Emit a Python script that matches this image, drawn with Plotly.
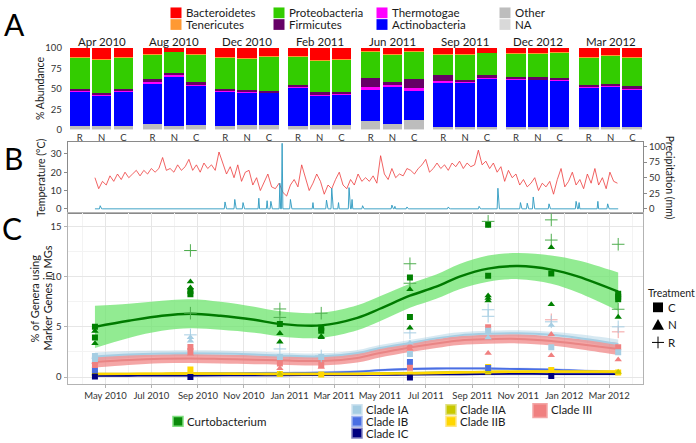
import pandas as pd
import plotly.graph_objects as go

W, H = 696, 443
FONT = "Lato"

# ---------------- Panel A: phylum composition per sampling month / treatment
months = ["Apr 2010", "Aug 2010", "Dec 2010", "Feb 2011", "Jun 2011", "Sep 2011", "Dec 2012", "Mar 2012"]
treatments = ["R", "N", "C"]
# 24 values each: month by month, in R, N, C order
na_pct = [1.5] * 24
other_pct = [3.5, 3.5, 3.5, 5.5, 3.7, 4.7, 3.5, 4.5, 4.0, 3.0, 4.5, 4.5,
             9.5, 5.5, 10.8, 2.5, 2.5, 2.0, 2.0, 2.0, 2.0, 2.0, 2.0, 2.0]
actino_pct = [41.5, 37.0, 41.5, 49.5, 60.0, 47.5, 41.8, 39.2, 39.7, 46.7, 36.0, 37.2,
              37.8, 45.7, 35.7, 54.0, 53.5, 59.5, 57.9, 57.7, 57.3, 48.6, 49.5, 46.2]
thermo_pct = [1.5, 1.5, 1.5, 2.5, 1.5, 1.5, 1.4, 1.2, 1.0, 1.2, 1.6, 1.4,
              3.2, 2.1, 3.2, 1.9, 1.2, 1.3, 0.8, 0.8, 0.8, 1.2, 1.2, 1.2]
firmi_pct = [1.5, 1.5, 1.5, 3.5, 2.5, 3.0, 1.8, 2.0, 1.8, 2.4, 2.4, 2.2,
             10.7, 3.2, 10.7, 6.8, 2.4, 2.4, 2.0, 2.0, 2.0, 1.9, 2.0, 2.4]
proteo_pct = [39.0, 41.5, 39.0, 30.0, 26.0, 33.5, 38.7, 39.3, 41.6, 35.4, 38.7, 39.4,
              32.8, 33.7, 33.3, 25.5, 31.1, 27.4, 29.5, 29.5, 30.7, 33.5, 34.5, 35.4]
teneri_pct = [0.5, 0.5, 0.5, 0.5, 0.3, 0.3, 0.3, 0.3, 0.3, 0.3, 0.3, 0.3,
              0.5, 0.3, 0.8, 0.3, 0.3, 0.3, 0.3, 0.5, 0.3, 0.3, 0.3, 0.3]
bactero_pct = [11.0, 13.0, 11.0, 7.0, 4.5, 8.0, 11.0, 12.0, 10.1, 9.5, 15.0, 13.5,
               4.0, 8.0, 4.0, 7.5, 7.5, 5.6, 6.0, 6.0, 5.4, 11.0, 9.0, 11.0]

phyla = [
    ("NA", na_pct, "#d9d9d9"),
    ("Other", other_pct, "#bdbdbd"),
    ("Actinobacteria", actino_pct, "#0000ff"),
    ("Thermotogae", thermo_pct, "#ff00ff"),
    ("Firmicutes", firmi_pct, "#660066"),
    ("Proteobacteria", proteo_pct, "#33cc00"),
    ("Tenericutes", teneri_pct, "#ff9933"),
    ("Bacteroidetes", bactero_pct, "#ff0000"),
]

# ---------------- Panel B: daily climate
temp_start = "2010-04-17"   # one reading every 5 days
temp_c = [17, 11, 15, 13, 18, 15, 19, 16, 20, 17, 19, 21,
          18, 21, 19, 22, 20, 22, 28, 21, 22, 20, 24, 21,
          23, 27, 21, 24, 20, 25, 22, 24, 21, 31, 25, 19,
          23, 17, 24, 15, 20, 21, 13, 17, 10, 15, 19, 12,
          11, 14, 9, 7, 13, 16, 12, 24, 17, 10, 14, 19,
          15, 8, 13, 11, 16, 20, 13, 11, 16, 13, 19, 15,
          17, 15, 18, 14, 29, 19, 16, 22, 17, 19, 18, 22,
          21, 19, 22, 24, 27, 20, 22, 25, 22, 24, 21, 25,
          23, 26, 22, 25, 23, 24, 32, 24, 26, 22, 25, 20,
          23, 15, 21, 17, 19, 13, 16, 12, 14, 17, 10, 14,
          12, 15, 8, 16, 22, 12, 15, 20, 13, 16, 11, 19,
          14, 22, 13, 17, 11, 20, 15, 14]
rain_start, rain_end = "2010-04-17", "2012-03-13"
rain_dates = ["2010-04-24", "2010-10-07", "2010-10-20", "2010-10-31", "2010-11-21", "2010-12-02",
              "2010-12-07", "2010-12-19", "2010-12-22", "2011-01-02", "2011-02-01", "2011-02-19",
              "2011-02-26", "2011-03-07", "2011-03-21", "2011-03-25", "2011-04-08", "2011-05-17",
              "2011-05-21", "2011-06-06", "2011-07-31", "2011-09-10", "2011-10-05", "2011-11-04",
              "2011-11-13", "2011-11-21", "2011-12-12", "2012-01-17", "2012-01-21", "2012-02-15",
              "2012-02-28"]
rain_mm = [5, 11, 15, 10, 17, 13, 12, 41, 105, 15, 10, 14, 33, 10, 34, 15, 5, 6, 4, 3, 3, 4,
           33, 10, 9, 19, 8, 12, 10, 12, 8]

# ---------------- Panel C: marker-gene genera
sample_dates = ["2010-04-17", "2010-08-22", "2010-12-19", "2011-02-12",
                "2011-06-10", "2011-09-22", "2011-12-15", "2012-03-13"]
fit_dates = ["2010-04-17", "2010-06-01", "2010-07-15", "2010-08-22", "2010-10-01", "2010-11-15",
             "2010-12-19", "2011-02-12", "2011-04-01", "2011-05-01", "2011-06-10", "2011-07-15",
             "2011-08-15", "2011-09-22", "2011-11-01", "2011-12-15", "2012-01-20", "2012-03-13"]
curto_fit = [5.0, 5.6, 6.1, 6.3, 6.1, 5.7, 5.3, 5.15, 5.9, 6.8, 8.1, 9.0, 10.0, 10.8, 11.05, 10.7, 10.0, 8.5]
curto_se = [2.1, 1.7, 1.5, 1.45, 1.4, 1.3, 1.25, 1.25, 1.25, 1.25, 1.2, 1.2, 1.25, 1.3, 1.3, 1.4, 1.6, 1.9]
ia_fit = [2.05, 2.25, 2.35, 2.38, 2.35, 2.25, 2.15, 2.06, 2.4, 2.9, 3.4, 3.85, 4.15, 4.3, 4.35, 4.2, 3.9, 3.3]
ia_se = [0.4, 0.35, 0.3, 0.3, 0.3, 0.3, 0.3, 0.3, 0.3, 0.3, 0.3, 0.3, 0.3, 0.3, 0.3, 0.3, 0.35, 0.45]
iii_fit = [1.5, 1.7, 1.82, 1.85, 1.8, 1.72, 1.67, 1.6, 1.9, 2.4, 2.95, 3.35, 3.65, 3.77, 3.8, 3.6, 3.3, 2.8]
iii_se = [0.55, 0.5, 0.45, 0.45, 0.45, 0.45, 0.45, 0.45, 0.45, 0.45, 0.45, 0.45, 0.45, 0.45, 0.45, 0.45, 0.5, 0.6]
ib_fit = [0.3, 0.3, 0.32, 0.34, 0.36, 0.38, 0.4, 0.45, 0.55, 0.68, 0.8, 0.85, 0.86, 0.85, 0.8, 0.75, 0.65, 0.5]
ic_fit = [0.12, 0.13, 0.14, 0.15, 0.16, 0.17, 0.18, 0.19, 0.2, 0.22, 0.24, 0.26, 0.28, 0.3, 0.31, 0.3, 0.3, 0.3]
iia_fit = [0.3, 0.31, 0.32, 0.33, 0.33, 0.33, 0.33, 0.33, 0.35, 0.38, 0.42, 0.46, 0.5, 0.53, 0.55, 0.55, 0.53, 0.5]
iib_fit = [0.3, 0.32, 0.34, 0.35, 0.34, 0.32, 0.3, 0.3, 0.31, 0.33, 0.36, 0.4, 0.45, 0.5, 0.53, 0.55, 0.55, 0.55]
low_se = 0.12

# (sample index, treatment, %)
curto_points = [(0, "C", 5.0), (0, "C", 3.93), (0, "N", 4.58), (0, "N", 3.35),
                (1, "C", 8.56), (1, "C", 8.25), (1, "N", 9.5), (1, "N", 8.9), (1, "R", 12.6), (1, "R", 6.36),
                (2, "C", 5.29), (2, "N", 4.35), (2, "N", 3.51), (2, "R", 6.78), (2, "R", 5.94),
                (3, "C", 4.9), (3, "C", 4.6), (3, "N", 3.95), (3, "N", 4.05), (3, "R", 6.36),
                (4, "C", 9.92), (4, "C", 5.97), (4, "N", 8.72), (4, "N", 4.9), (4, "R", 11.28), (4, "R", 9.34),
                (5, "C", 15.16), (5, "C", 10.08), (5, "N", 8.1), (5, "N", 7.85), (5, "N", 7.6), (5, "R", 15.5),
                (6, "C", 10.3), (6, "N", 12.9), (6, "N", 7.23), (6, "R", 15.65), (6, "R", 13.64),
                (7, "C", 8.3), (7, "C", 8.0), (7, "C", 7.75), (7, "N", 5.97), (7, "R", 13.22), (7, "R", 6.75)]
ia_points = [(0, "C", 2.1), (0, "C", 1.8), (0, "N", 2.0), (1, "N", 3.95), (1, "N", 3.6), (1, "R", 4.2),
             (2, "C", 2.0), (2, "R", 2.8), (3, "C", 2.0), (3, "R", 2.1), (4, "R", 4.4), (4, "C", 2.3),
             (4, "N", 3.4), (5, "R", 6.7), (5, "R", 6.05), (5, "N", 3.93), (5, "C", 4.6), (6, "R", 5.5),
             (6, "N", 5.16), (6, "C", 2.96), (7, "R", 5.0), (7, "C", 2.48)]
iii_points = [(0, "C", 1.2), (0, "N", 1.5), (1, "C", 3.0), (1, "C", 2.6), (1, "N", 2.3), (2, "C", 1.34),
              (2, "N", 0.86), (3, "C", 1.2), (3, "N", 1.0), (4, "N", 3.13), (4, "N", 2.8), (4, "C", 0.92),
              (5, "C", 4.97), (5, "N", 2.38), (6, "R", 5.7), (6, "N", 4.25), (6, "N", 2.15), (7, "R", 4.5),
              (7, "C", 2.96), (7, "N", 1.73)]
ib_points = [(0, "C", 0.7), (4, "C", 1.5), (5, "C", 0.9)]
ic_points = [(0, "C", 0.05), (1, "C", 0.0), (4, "C", -0.05), (6, "C", 0.1)]
iia_points = [(0, "N", 0.35), (2, "N", 0.3), (5, "N", 0.55), (7, "N", 0.5)]
iib_points = [(0, "C", 0.3), (0, "C", 0.45), (1, "C", 0.75), (2, "C", 0.3), (3, "C", 0.25), (4, "C", 0.25),
              (5, "C", 1.0), (5, "C", 0.55), (6, "C", 0.7), (7, "C", 0.45)]


def px(x):
    return x / W


def py(y):
    return 1 - y / H


fig = go.Figure()

# ---- A: stacked bars, one x axis per facet
for i, m in enumerate(months):
    xa = "x" if i == 0 else f"x{i + 1}"
    for name, vals, col in phyla:
        fig.add_trace(go.Bar(x=treatments, y=vals[i * 3:(i + 1) * 3], name=name, marker_color=col,
                             marker_line_width=0, width=0.9, xaxis=xa, yaxis="y"))

# ---- B: temperature + precipitation
temp_dates = pd.date_range(temp_start, periods=len(temp_c), freq="5D")
fig.add_trace(go.Scatter(x=temp_dates, y=temp_c, mode="lines", line=dict(color="#ee3b3b", width=0.8),
                         xaxis="x9", yaxis="y2"))
rain = pd.Series(0.0, index=pd.date_range(rain_start, rain_end, freq="D"))
for d, v in zip(rain_dates, rain_mm):
    rain[pd.Timestamp(d)] = v
fig.add_trace(go.Scatter(x=rain.index, y=rain.values, mode="lines", line=dict(color="#2b98bf", width=0.9),
                         xaxis="x9", yaxis="y3"))


# ---- C: loess fits with ribbons, then points
def ribbon(fit, se, fill, line_col, lw):
    se = se if isinstance(se, list) else [se] * len(fit)
    lo = [f - s for f, s in zip(fit, se)]
    hi = [f + s for f, s in zip(fit, se)]
    fig.add_trace(go.Scatter(x=fit_dates, y=lo, mode="lines", line=dict(width=0, shape="spline"),
                             xaxis="x10", yaxis="y4", hoverinfo="skip"))
    fig.add_trace(go.Scatter(x=fit_dates, y=hi, mode="lines", line=dict(width=0, shape="spline"),
                             fill="tonexty", fillcolor=fill, xaxis="x10", yaxis="y4", hoverinfo="skip"))
    return (fit, line_col, lw)


fits = [
    ribbon(curto_fit, curto_se, "rgba(110,228,110,0.75)", "#007a00", 2.4),
    ribbon(ia_fit, ia_se, "rgba(166,206,227,0.45)", "#a6cee3", 2.0),
    ribbon(iii_fit, iii_se, "rgba(240,128,128,0.7)", "#e98585", 2.0),
    ribbon(ib_fit, low_se, "rgba(72,110,230,0.3)", "#4a6fe3", 1.8),
    ribbon(ic_fit, low_se, "rgba(0,0,128,0.25)", "#000080", 1.8),
    ribbon(iia_fit, low_se, "rgba(200,200,0,0.35)", "#c8c800", 1.8),
    ribbon(iib_fit, low_se, "rgba(255,215,0,0.5)", "#ffd700", 2.4),
]
for fit, col, lw in fits:
    fig.add_trace(go.Scatter(x=fit_dates, y=fit, mode="lines", line=dict(color=col, width=lw, shape="spline"),
                             xaxis="x10", yaxis="y4"))

symbols = {"C": "square", "N": "triangle-up", "R": "cross-thin"}


def add_points(points, col, cross_col=None):
    for t in ["R", "N", "C"]:
        sel = [p for p in points if p[1] == t]
        if not sel:
            continue
        xs = [sample_dates[p[0]] for p in sel]
        ys = [p[2] for p in sel]
        if t == "R":
            mk = dict(symbol="cross-thin", size=9, line=dict(color=cross_col or col, width=1))
        else:
            mk = dict(symbol=symbols[t], size=6.5 if t == "N" else 6, color=col, line=dict(width=0))
        fig.add_trace(go.Scatter(x=xs, y=ys, mode="markers", marker=mk, xaxis="x10", yaxis="y4"))


add_points(iib_points, "#ffd700")
add_points(iia_points, "#c8c800")
add_points(ic_points, "#000080")
add_points(ib_points, "#4a6fe3")
add_points(iii_points, "#f08080", "#f4a0a0")
add_points(ia_points, "#a6cee3", "#a6cee3")
add_points(curto_points, "#008000", "#4fae4f")

# ---------------- layout
tickfont = dict(family=FONT, size=9.5, color="#333333")
x_range = ["2010-03-11 12:00", "2012-04-15"]
lay = dict(width=W, height=H, margin=dict(l=0, r=0, t=0, b=0), paper_bgcolor="white",
           plot_bgcolor="white", barmode="stack", showlegend=False, font=dict(family=FONT, color="#222222"))

for i in range(8):
    key = "xaxis" if i == 0 else f"xaxis{i + 1}"
    x0 = 68.9 + i * 72.7
    lay[key] = dict(domain=[px(x0), px(x0 + 65.4)], anchor="y", type="category",
                    categoryorder="array", categoryarray=treatments, range=[-0.5, 2.5],
                    showgrid=False, zeroline=False, showline=False, ticks="",
                    tickfont=tickfont, ticklabelstandoff=1)
lay["yaxis"] = dict(domain=[py(127), py(43)], anchor="x", range=[0, 100], tickvals=[0, 25, 50, 75, 100],
                    showgrid=False, zeroline=False, showline=False, ticks="", tickfont=tickfont,
                    ticklabelstandoff=6)

lay["xaxis9"] = dict(domain=[px(67.5), px(643)], anchor="y2", type="date", range=x_range,
                     showticklabels=False, showgrid=False, zeroline=False, showline=True, mirror=True,
                     linecolor="#8a8a8a", linewidth=1, ticks="")
lay["yaxis2"] = dict(domain=[py(212), py(139)], anchor="x9", range=[-2.1, 36.7], tickvals=[0, 10, 20, 30],
                     showgrid=False, zeroline=False, showline=True, linecolor="#8a8a8a", ticks="outside",
                     ticklen=3, tickcolor="#8a8a8a", tickfont=tickfont)
lay["yaxis3"] = dict(overlaying="y2", side="right", anchor="x9", range=[-6.25, 107.8],
                     tickvals=[0, 25, 50, 75, 100], showgrid=False, zeroline=False, showline=True,
                     linecolor="#8a8a8a", ticks="outside", ticklen=3, tickcolor="#8a8a8a", tickfont=tickfont)

lay["xaxis10"] = dict(domain=[px(67.5), px(643)], anchor="y4", type="date", range=x_range,
                      tick0="2010-05-01", dtick="M2", tickformat="%b %Y", showgrid=True, gridcolor="#e6e6e6",
                      gridwidth=1, minor=dict(dtick="M1", tick0="2010-04-01", showgrid=True, gridcolor="#f3f3f3"),
                      zeroline=False, showline=True, mirror=True, linecolor="#b3b3b3", ticks="outside",
                      ticklen=3, tickcolor="#b3b3b3", tickfont=tickfont, ticklabelstandoff=0)
lay["yaxis4"] = dict(domain=[py(387.3), py(212)], anchor="x10", range=[-0.66, 16.36], tickvals=[0, 5, 10, 15],
                     showgrid=True, gridcolor="#e6e6e6", minor=dict(tickvals=[2.5, 7.5, 12.5], showgrid=True,
                                                                      gridcolor="#f3f3f3"),
                     zeroline=False, showline=True, mirror=True, linecolor="#b3b3b3", ticks="outside",
                     ticklen=3, tickcolor="#b3b3b3", tickfont=tickfont)
fig.update_layout(**lay)

ann = []
shapes = []


def text(x, y, s, size=11, anchor="left", angle=0, color="#1a1a1a"):
    ann.append(dict(x=px(x), y=py(y), xref="paper", yref="paper", text=s, showarrow=False,
                    xanchor=anchor, yanchor="middle", textangle=angle, borderpad=0,
                    font=dict(family=FONT, size=size, color=color)))


def swatch(cx, cy, size, fill, line=None, lw=0):
    shapes.append(dict(type="rect", xref="paper", yref="paper", x0=px(cx - size / 2), x1=px(cx + size / 2),
                       y0=py(cy + size / 2), y1=py(cy - size / 2), fillcolor=fill,
                       line=dict(color=line or fill, width=lw)))


# panel letters
text(14, 18, "A", 30, "center", color="black")
text(13, 156, "B", 30, "center", color="black")
text(12, 228, "C", 30, "center", color="black")

# facet titles
for i, m in enumerate(months):
    text(68.9 + i * 72.7 + 32.7, 36, m, 11.5, "center")

# axis titles
text(40, 85, "% Abundance", 10.5, "center", -90)
text(41, 176, "Temperature (°C)", 10.5, "center", -90)
text(670, 176, "Precipitation (mm)", 10.5, "center", 90)
text(35, 300, "% of Genera using", 11, "center", -90)
text(48, 300, "Marker Genes in MGs", 11, "center", -90)

# top phylum legend
top_legend = [("Bacteroidetes", "#ff0000", 176, 7), ("Tenericutes", "#ff9933", 176, 19),
              ("Proteobacteria", "#33cc00", 279, 7), ("Firmicutes", "#660066", 279, 19),
              ("Thermotogae", "#ff00ff", 382, 7), ("Actinobacteria", "#0000ff", 382, 19),
              ("Other", "#bdbdbd", 505, 7), ("NA", "#d9d9d9", 505, 19)]
for lab, col, cx, cy in top_legend:
    swatch(cx, cy, 11, col)
    text(cx + 9, cy, lab, 11.5)

# treatment legend
text(647, 294, "Treatment", 10.5)
swatch(658, 309, 10, "black")
shapes.append(dict(type="path", xref="paper", yref="paper",
                   path=f"M {px(652)} {py(332)} L {px(664)} {py(332)} L {px(658)} {py(321)} Z",
                   fillcolor="black", line=dict(width=0)))
shapes.append(dict(type="line", xref="paper", yref="paper", x0=px(652), x1=px(664), y0=py(345), y1=py(345),
                   line=dict(color="black", width=1)))
shapes.append(dict(type="line", xref="paper", yref="paper", x0=px(658), x1=px(658), y0=py(339), y1=py(351),
                   line=dict(color="black", width=1)))
text(667, 309, "C", 11.5)
text(667, 327, "N", 11.5)
text(667, 345, "R", 11.5)

# bottom clade legend
bottom_legend = [("Curtobacterium", "#0a8a0a", "#7fe07f", 178, 426),
                 ("Clade IA", "#a6cee3", "#cfe3f0", 357, 414),
                 ("Clade IB", "#4a6fe3", "#9fb4f0", 357, 426),
                 ("Clade IC", "#000080", "#8080c0", 357, 438),
                 ("Clade IIA", "#c8c800", "#e0e080", 451, 414),
                 ("Clade IIB", "#ffd700", "#ffe680", 451, 426)]
for lab, col, edge, cx, cy in bottom_legend:
    swatch(cx, cy, 10, col, edge, 1.5)
    text(cx + 8, cy, lab, 11.5)
swatch(540, 415, 14, "#f08080", "#f4a6a6", 1.5)
text(550, 414, "Clade III", 11.5)

fig.update_layout(annotations=ann, shapes=shapes)
fig.write_html("out.html", config={"displayModeBar": False},
               post_script="document.body.style.margin='0px';document.body.style.overflow='hidden';")
